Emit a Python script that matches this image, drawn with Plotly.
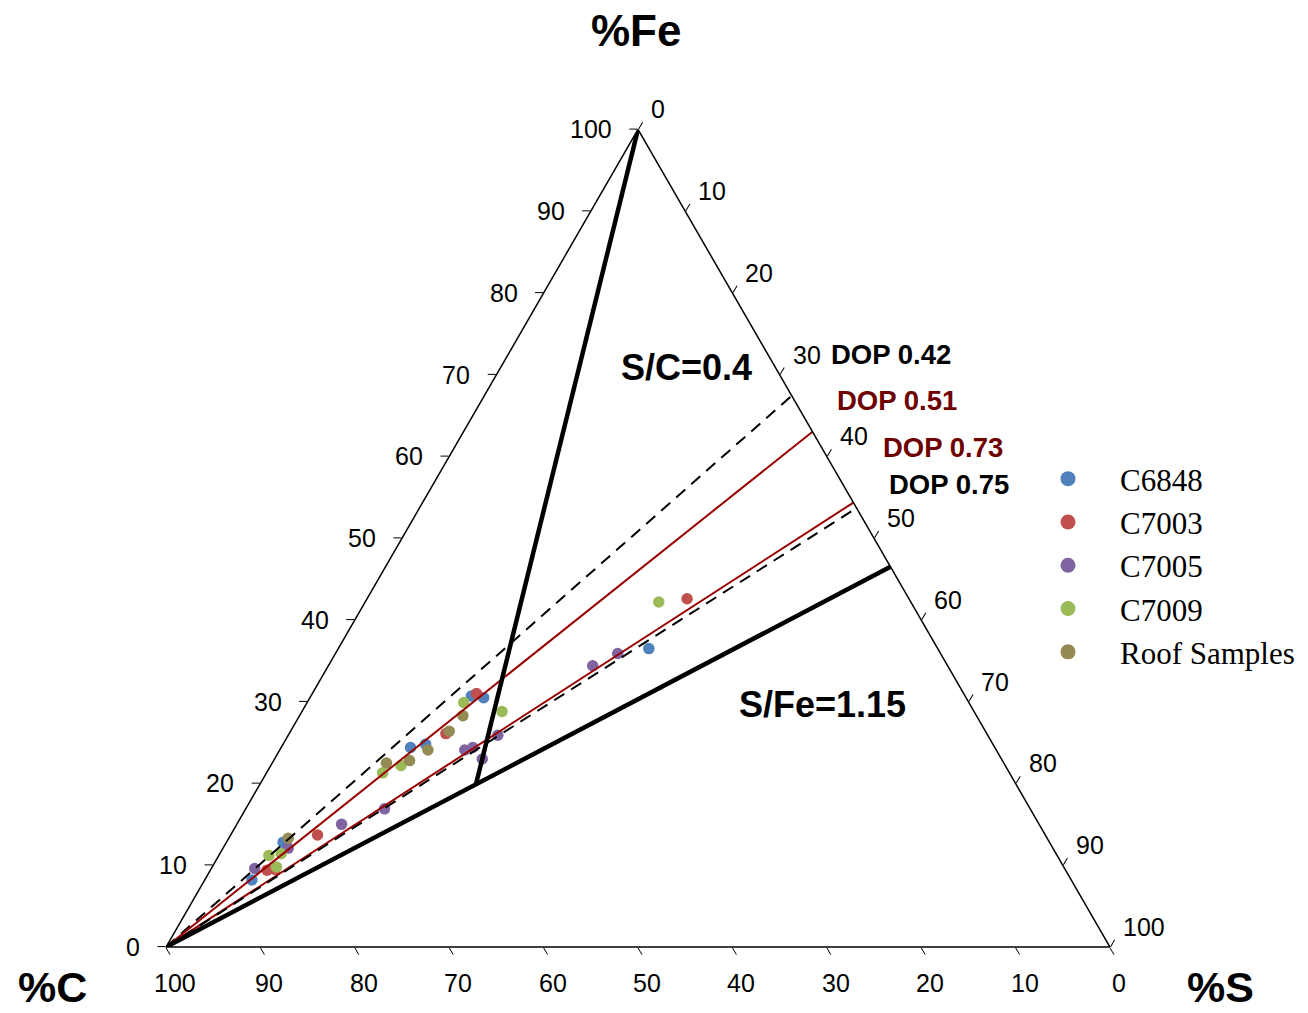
import plotly.graph_objects as go

# ---- sample compositions (weight %) -------------------------------------
c6848_fe = [8.2, 12.8, 24.4, 24.8, 30.7, 30.5, 36.5]
c6848_s = [5.0, 6.0, 13.7, 15.1, 17.0, 18.4, 32.9]

c7003_fe = [9.4, 9.5, 13.7, 26.1, 31.0, 42.6]
c7003_s = [6.0, 6.8, 9.2, 16.6, 17.4, 33.9]

c7005_fe = [9.6, 12.1, 15.0, 16.9, 24.1, 24.4, 23.0, 25.9, 34.4, 35.9]
c7005_s = [4.6, 6.9, 11.1, 14.7, 19.6, 20.3, 22.0, 22.2, 28.0, 29.9]

c7009_fe = [11.2, 11.4, 9.8, 21.3, 22.2, 29.9, 28.8, 42.2]
c7009_s = [5.3, 6.5, 6.8, 12.3, 13.8, 16.6, 21.2, 31.1]

roof_fe = [13.3, 22.5, 22.8, 24.1, 26.4, 28.3]
roof_s = [6.3, 12.1, 14.4, 15.7, 16.8, 17.3]

series_names = ["C6848", "C7003", "C7005", "C7009", "Roof Samples"]
series_fe = [c6848_fe, c7003_fe, c7005_fe, c7009_fe, roof_fe]
series_s = [c6848_s, c7003_s, c7005_s, c7009_s, roof_s]
series_colors = ["#4F81BD", "#C0504D", "#8064A2", "#9BBB59", "#948A54"]

# ---- reference ratios ------------------------------------------------------
pyrite_s_fe = 1.15          # S/Fe of pyrite (DOP = 1)
sc_ratio = 0.4              # S/C line
dop_values = [0.42, 0.51, 0.73, 0.75]
dop_labels = ["DOP 0.42", "DOP 0.51", "DOP 0.73", "DOP 0.75"]
dop_line_colors = ["black", "#990000", "#990000", "black"]
dop_line_dash = ["12px,8px", "solid", "solid", "12px,8px"]
dop_text_colors = ["black", "#6E0000", "#6E0000", "black"]

tick_vals = list(range(0, 101, 10))
tick_text = [str(v) for v in tick_vals]

W, H = 1308, 1013
TRI_X0, TRI_Y0 = 166, 947        # carbon apex (bottom-left corner), px
TRI_W = 944                      # triangle side in px
TRI_H = TRI_W * 3 ** 0.5 / 2
UX = TRI_W / 100                 # px per unit along the base
UY = TRI_H / 100                 # px per unit of height


def px(x):
    return x / W


def py(y):
    return 1 - y / H


def tern_to_px(fe, s):
    """Pixel position of a composition inside the ternary frame."""
    return TRI_X0 + UX * (s + fe / 2), TRI_Y0 - UY * fe


def edge_point(ratio):
    """Point on the Fe-S edge (C = 0) with the given S/Fe ratio."""
    fe = 100 / (1 + ratio)
    return fe, 100 - fe


fig = go.Figure()

# sample points
for name, fe, s, col in zip(series_names, series_fe, series_s, series_colors):
    fig.add_trace(go.Scatterternary(
        a=fe, c=s, b=[100 - f - v for f, v in zip(fe, s)],
        mode="markers", name=name, legendgroup=name, showlegend=False,
        marker=dict(size=11.5, color=col, line=dict(width=0)),
    ))

# legend entries (larger symbols than the data markers)
for name, col in zip(series_names, series_colors):
    fig.add_trace(go.Scatterternary(
        a=[None], b=[None], c=[None], mode="markers", name=name,
        legendgroup=name, showlegend=True, hoverinfo="skip",
        marker=dict(size=15, color=col, line=dict(width=0)),
    ))

# DOP lines from the carbon apex to the Fe-S edge
for d, col, dash in zip(dop_values, dop_line_colors, dop_line_dash):
    fe_end, s_end = edge_point(pyrite_s_fe * d)
    fig.add_trace(go.Scatterternary(
        a=[0, fe_end], b=[100, 0], c=[0, s_end], mode="lines",
        line=dict(color=col, width=2, dash=dash), showlegend=False,
        hoverinfo="skip",
    ))

# pyrite line S/Fe = 1.15
fe_end, s_end = edge_point(pyrite_s_fe)
fig.add_trace(go.Scatterternary(
    a=[0, fe_end], b=[100, 0], c=[0, s_end], mode="lines",
    line=dict(color="black", width=4.5), showlegend=False, hoverinfo="skip",
))

# S/C = 0.4 line from the Fe apex down to the pyrite line
c_int = 100 / (1 + sc_ratio + sc_ratio / pyrite_s_fe)
s_int = sc_ratio * c_int
fe_int = 100 - c_int - s_int
fig.add_trace(go.Scatterternary(
    a=[100, fe_int], b=[0, c_int], c=[0, s_int], mode="lines",
    line=dict(color="black", width=4.5), showlegend=False, hoverinfo="skip",
))

axis_common = dict(
    tickvals=tick_vals, ticks="outside", ticklen=8, tickwidth=1.2,
    tickcolor="black", linecolor="black", linewidth=1.5, showgrid=False,
    showticklabels=False, title=dict(text=""), min=0,
)

fig.update_layout(
    width=W, height=H,
    margin=dict(l=0, r=0, t=0, b=0),
    paper_bgcolor="white", plot_bgcolor="white",
    ternary=dict(
        sum=100,
        bgcolor="white",
        domain=dict(x=[px(TRI_X0), px(TRI_X0 + TRI_W)],
                    y=[py(TRI_Y0), py(TRI_Y0 - TRI_H)]),
        aaxis=axis_common, baxis=axis_common, caxis=axis_common,
    ),
    showlegend=True,
    legend=dict(
        x=px(1016), y=py(452), xanchor="left", yanchor="top",
        font=dict(family="Liberation Serif, Times New Roman", size=31,
                  color="black"),
        bgcolor="rgba(0,0,0,0)", itemwidth=94, tracegroupgap=0,
    ),
)

# ---- tick labels, set off from the three edges --------------------------
tick_font = dict(family="Liberation Sans, Arial", size=25, color="black")
for v, t in zip(tick_vals, tick_text):
    # %Fe on the left edge: right-aligned, 25 px to the left
    x, y = tern_to_px(v, 0)
    fig.add_annotation(text=t, x=px(x - 25), y=py(y), xanchor="right",
                       yanchor="middle", font=tick_font)
    # %C on the bottom edge: centred, 9 px right and 36 px down
    x, y = tern_to_px(0, 100 - v)
    fig.add_annotation(text=t, x=px(x + 9), y=py(y + 36), xanchor="center",
                       yanchor="middle", font=tick_font)
    # %S on the right edge: left-aligned, 12 px right and 20 px up
    x, y = tern_to_px(100 - v, v)
    fig.add_annotation(text=t, x=px(x + 12), y=py(y - 20), xanchor="left",
                       yanchor="middle", font=tick_font)

bold = dict(family="Liberation Sans, Arial", color="black")
annots = [
    dict(text="<b>%Fe</b>", x=px(636), y=py(31), size=44),
    dict(text="<b>%C</b>", x=px(52), y=py(987), size=43),
    dict(text="<b>%S</b>", x=px(1220), y=py(987), size=43),
    dict(text="<b>S/C=0.4</b>", x=px(686), y=py(367), size=36),
    dict(text="<b>S/Fe=1.15</b>", x=px(822), y=py(704), size=36),
]
for a in annots:
    fig.add_annotation(text=a["text"], x=a["x"], y=a["y"], xanchor="center",
                       yanchor="middle", font=dict(size=a["size"], **bold))

dop_pos = [(830, 354), (836, 400), (882, 447), (888, 485)]
for lab, col, (lx, ly) in zip(dop_labels, dop_text_colors, dop_pos):
    fig.add_annotation(text="<b>" + lab + "</b>", x=px(lx), y=py(ly),
                       xanchor="left", yanchor="middle",
                       font=dict(family="Liberation Sans, Arial", size=27.5,
                                 color=col))

fig.update_annotations(xref="paper", yref="paper", showarrow=False,
                       borderpad=0)

fig.write_html("out.html")
